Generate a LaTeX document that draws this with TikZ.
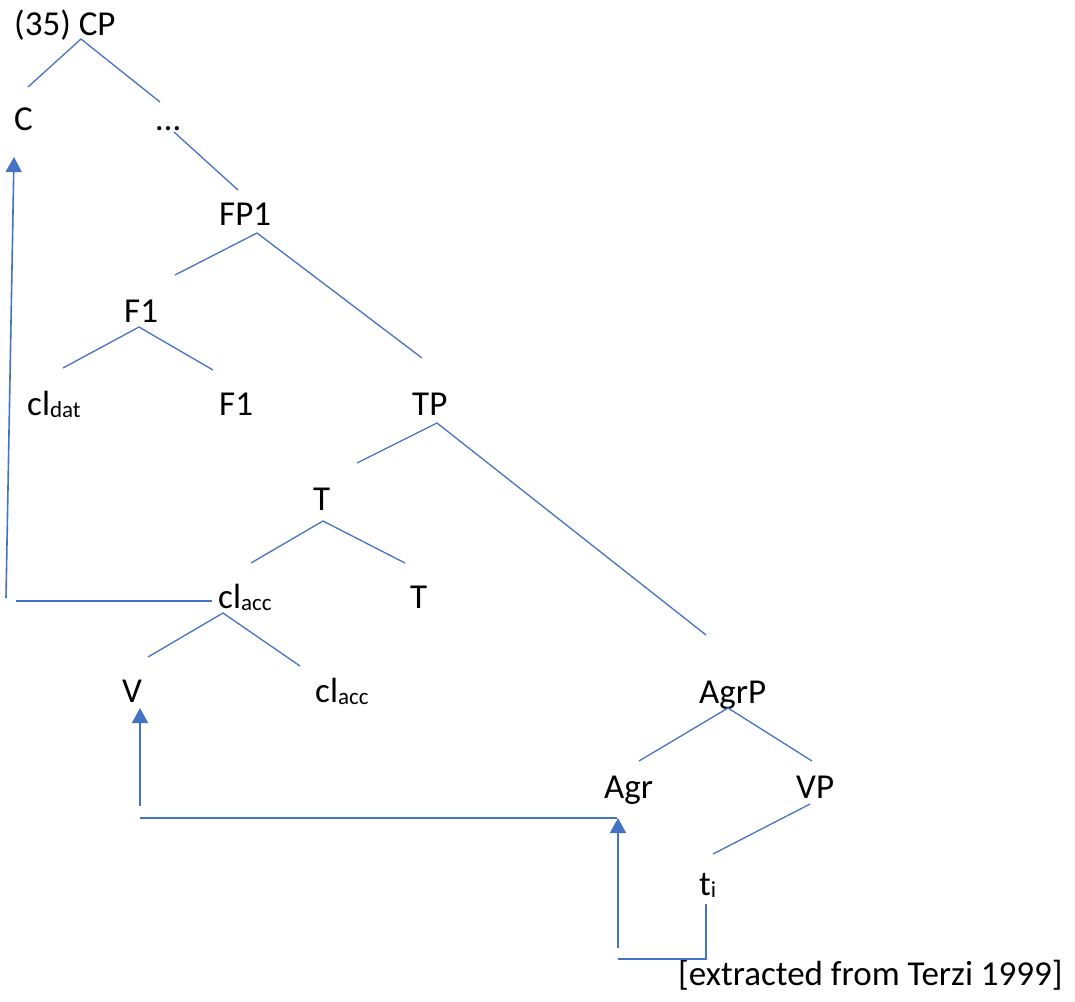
\documentclass[tikz,border=0pt]{standalone}
\usepackage{fontspec}
\setmainfont{Carlito}
\usetikzlibrary{arrows.meta}
\definecolor{lb}{HTML}{4472C4}
\newcommand{\sbs}[1]{\raisebox{-2pt}{\fontsize{23}{25}\selectfont #1}}
\begin{document}
\begin{tikzpicture}[x=1pt,y=-1pt,
  lbl/.style={anchor=base west, inner sep=0pt, font=\fontsize{35}{42}\selectfont},
  branch/.style={draw=lb, line width=1.3pt},
  move/.style={draw=lb, line width=1.6pt},
  movearrow/.style={move, -{Triangle[width=16pt,length=15pt]}}]
\useasboundingbox (0,0) rectangle (1075,1001);
% labels
\node[lbl] (cp) at (14,35) {(35) CP};
\node[lbl] (c) at (14,130) {C};
\node[lbl] (dots) at (156,130) {…};
\node[lbl] (fp1) at (219,225) {FP1};
\node[lbl] (f1a) at (124,322) {F1};
\node[lbl] (cldat) at (27,415) {cl\sbs{dat}};
\node[lbl] (f1b) at (219,415) {F1};
\node[lbl] (tp) at (412,415) {TP};
\node[lbl] (ta) at (313,510) {T};
\node[lbl] (clacca) at (218,608) {cl\sbs{acc}};
\node[lbl] (tb) at (410,608) {T};
\node[lbl] (v) at (122,702) {V};
\node[lbl] (claccb) at (315,702) {cl\sbs{acc}};
\node[lbl] (agrp) at (699,703) {AgrP};
\node[lbl] (agr) at (604,798) {Agr};
\node[lbl] (vp) at (796,798) {VP};
\node[lbl] (ti) at (699,895) {t\sbs{i}};
\node[lbl] (src) at (678,985) {[extracted from Terzi 1999]};
% branch end points
\coordinate (cpA) at (81,39);   \coordinate (cpL) at (28,87);   \coordinate (cpR) at (160,102);
\coordinate (dtA) at (174,132); \coordinate (dtB) at (238,190);
\coordinate (fpA) at (257,233); \coordinate (fpL) at (175,275); \coordinate (fpR) at (422,358);
\coordinate (f1A) at (139,327); \coordinate (f1L) at (63,368);  \coordinate (f1R) at (213,370);
\coordinate (tpA) at (437,423); \coordinate (tpL) at (357,463); \coordinate (tpR) at (706,635);
\coordinate (tA) at (323,521);  \coordinate (tL) at (251,563);  \coordinate (tR) at (405,563);
\coordinate (clA) at (223,613); \coordinate (clL) at (148,657); \coordinate (clR) at (300,666);
\coordinate (agA) at (728,708); \coordinate (agL) at (639,761); \coordinate (agR) at (812,761);
\coordinate (vpA) at (810,804); \coordinate (vpB) at (713,854);
% movement points
\coordinate (m1a) at (16,601);  \coordinate (m1b) at (212,601);
\coordinate (m2a) at (6,598);   \coordinate (m2b) at (14,157);
\coordinate (m3a) at (140,806); \coordinate (m3b) at (140,708);
\coordinate (m4a) at (140,818); \coordinate (m4b) at (617,818);
\coordinate (m5a) at (618,948); \coordinate (m5b) at (618,818);
\coordinate (m6a) at (618,959); \coordinate (m6b) at (706,959); \coordinate (m6c) at (706,904);
% branches
\draw[branch] (cpL) -- (cpA) -- (cpR);
\draw[branch] (dtA) -- (dtB);
\draw[branch] (fpL) -- (fpA) -- (fpR);
\draw[branch] (f1L) -- (f1A) -- (f1R);
\draw[branch] (tpL) -- (tpA) -- (tpR);
\draw[branch] (tL) -- (tA) -- (tR);
\draw[branch] (clL) -- (clA) -- (clR);
\draw[branch] (agL) -- (agA) -- (agR);
\draw[branch] (vpA) -- (vpB);
% movement
\draw[move] (m1a) -- (m1b);
\draw[movearrow] (m2a) -- (m2b);
\draw[movearrow] (m3a) -- (m3b);
\draw[move] (m4a) -- (m4b);
\draw[movearrow] (m5a) -- (m5b);
\draw[move] (m6a) -- (m6b) -- (m6c);
\end{tikzpicture}
\end{document}
